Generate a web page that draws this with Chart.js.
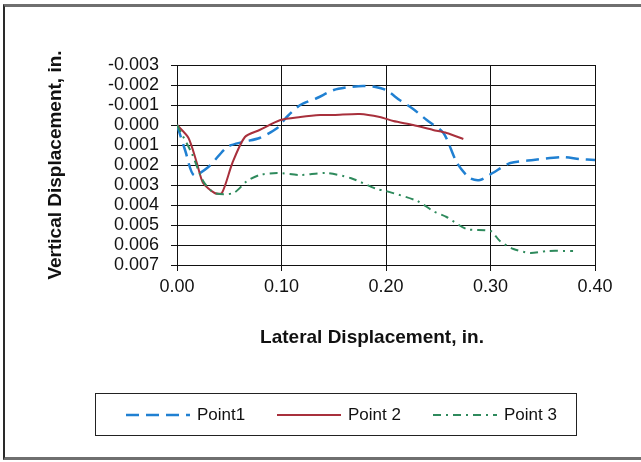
<!DOCTYPE html>
<html>
<head>
<meta charset="utf-8">
<script src="https://cdn.jsdelivr.net/npm/chart.js@4.4.1/dist/chart.umd.min.js"></script>
<style>
  html, body { margin: 0; padding: 0; background: #fff; }
  body { width: 641px; height: 462px; position: relative; overflow: hidden; font-family: "Liberation Sans", Arial, sans-serif; }
  #frame { position: absolute; left: 3px; top: 4px; width: 660px; height: 450px;
    border-left: 2px solid #2a2a2a; border-top: 3px solid #6f6f6f; border-bottom: 3px solid #6f6f6f; }
  #chart { position: absolute; left: 0; top: 0; }
  #xTitle { position: absolute; left: 222px; width: 300px; top: 326px; text-align: center;
    font-weight: bold; font-size: 19px; color: #111; }
  #legend { position: absolute; left: 95px; top: 393px; width: 482px; height: 43px;
    border: 1px solid #222; box-sizing: border-box; }
  .item { position: absolute; top: 0; height: 41px; display: flex; align-items: center; font-size: 17px; color: #111; }
  .item svg { margin-right: 7px; }
</style>
</head>
<body>
<div id="frame"></div>
<canvas id="chart" width="641" height="462"></canvas>
<div id="xTitle">Lateral Displacement, in.</div>
<div id="legend"></div>
<script>
// ─── Données ────────────────────────────────────────────────────────────────
const SERIES_NAMES = ["Point1", "Point 2", "Point 3"];

const p1X = [0, 0.008, 0.016, 0.03, 0.048, 0.063, 0.079, 0.096, 0.105, 0.118, 0.134, 0.15, 0.165, 0.178, 0.19, 0.2, 0.213, 0.226, 0.239, 0.255, 0.268, 0.28, 0.29, 0.302, 0.319, 0.341, 0.369, 0.385, 0.4];
const p1Y = [0, 0.0013, 0.0025, 0.0021, 0.0011, 0.00085, 0.00065, 0.00015, -0.0004, -0.001, -0.00135, -0.00175, -0.0019, -0.00195, -0.0019, -0.00175, -0.00125, -0.0008, -0.00025, 0.0004, 0.0019, 0.00265, 0.00275, 0.0024, 0.0019, 0.00175, 0.0016, 0.0017, 0.00175];

const p2X = [0, 0.011, 0.019, 0.025, 0.036, 0.043, 0.053, 0.065, 0.079, 0.099, 0.118, 0.137, 0.15, 0.175, 0.194, 0.207, 0.226, 0.245, 0.258, 0.274];
const p2Y = [0, 0.00065, 0.0019, 0.0029, 0.0034, 0.0034, 0.0019, 0.0006, 0.00025, -0.00025, -0.0004, -0.0005, -0.0005, -0.00055, -0.0004, -0.0002, 0, 0.00025, 0.0004, 0.0007];

const p3X = [0, 0.014, 0.025, 0.036, 0.054, 0.067, 0.079, 0.096, 0.118, 0.143, 0.166, 0.191, 0.2, 0.23, 0.245, 0.258, 0.277, 0.3, 0.309, 0.322, 0.338, 0.354, 0.379];
const p3Y = [0, 0.0014, 0.0028, 0.0034, 0.0034, 0.0028, 0.0025, 0.0024, 0.0025, 0.0024, 0.00265, 0.0032, 0.0033, 0.0038, 0.0043, 0.0046, 0.0052, 0.0053, 0.0058, 0.0062, 0.0064, 0.0063, 0.0063];

const X_MIN = 0, X_MAX = 0.4, X_STEP = 0.1;
const Y_MIN = -0.003, Y_MAX = 0.007, Y_STEP = 0.001;

// ─── Styles ─────────────────────────────────────────────────────────────────
const COLORS = { blue: "#2080d2", red: "#a8303c", green: "#2e8a5c" };
const STYLES = [
  { color: COLORS.blue, width: 2.5, dash: [13, 7] },
  { color: COLORS.red, width: 2, dash: [] },
  { color: COLORS.green, width: 2, dash: [8, 5, 2, 5] },
];

const FONT = "'Liberation Sans', Arial, sans-serif";
Chart.defaults.font.family = FONT;
Chart.defaults.color = "#111";

const pts = (xs, ys) => xs.map((x, i) => ({ x, y: ys[i] }));
const seriesData = [pts(p1X, p1Y), pts(p2X, p2Y), pts(p3X, p3Y)];

const datasets = seriesData.map((data, i) => ({
  label: SERIES_NAMES[i],
  data,
  showLine: true,
  borderColor: STYLES[i].color,
  backgroundColor: STYLES[i].color,
  borderWidth: STYLES[i].width,
  borderDash: STYLES[i].dash,
  pointRadius: 0,
  tension: 0.25,
  fill: false,
  order: 3 - i,
}));

const fmt = (v, d) => (Math.abs(v) < 1e-9 ? 0 : v).toFixed(d);

new Chart(document.getElementById("chart"), {
  type: "scatter",
  data: { datasets },
  options: {
    responsive: false,
    animation: false,
    layout: { padding: { left: 0, top: 65, right: 46, bottom: 107 } },
    plugins: { legend: { display: false }, tooltip: { enabled: false } },
    scales: {
      x: {
        type: "linear",
        min: X_MIN, max: X_MAX,
        afterFit: (s) => { s.height = 90; },
        grid: { color: "#111", lineWidth: 1, tickLength: 6, drawTicks: true },
        border: { color: "#111", width: 1 },
        ticks: { stepSize: X_STEP, padding: 5, font: { size: 18 }, color: "#111",
          callback: (v) => fmt(v, 2), maxRotation: 0, autoSkip: false },
      },
      y: {
        type: "linear",
        reverse: true,
        min: Y_MIN, max: Y_MAX,
        afterFit: (s) => { s.width = 177; },
        grid: { color: "#111", lineWidth: 1, tickLength: 6, drawTicks: true },
        border: { color: "#111", width: 1 },
        ticks: { stepSize: Y_STEP, padding: 12, font: { size: 18 }, color: "#111",
          callback: (v) => fmt(v, 3), autoSkip: false },
        title: { display: true, text: "Vertical Displacement, in.", color: "#111",
          font: { size: 19, weight: "bold" }, padding: { top: 44, bottom: 0 } },
      },
    },
  },
});

// ─── Légende HTML ───────────────────────────────────────────────────────────
const LEGEND_POS = [30, 181, 337];
const legend = document.getElementById("legend");
SERIES_NAMES.forEach((name, i) => {
  const st = STYLES[i];
  const item = document.createElement("div");
  item.className = "item";
  item.style.left = LEGEND_POS[i] + "px";
  item.innerHTML =
    `<svg width="64" height="6"><line x1="0" y1="3" x2="64" y2="3" stroke="${st.color}" stroke-width="${st.width}" stroke-dasharray="${st.dash.join(" ") || "none"}"/></svg>${name}`;
  legend.appendChild(item);
});
</script>
</body>
</html>
